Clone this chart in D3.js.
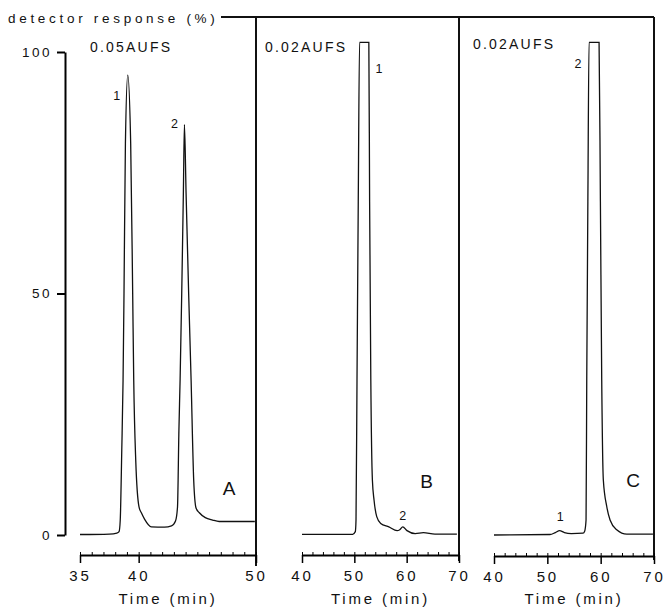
<!DOCTYPE html>
<html>
<head>
<meta charset="utf-8">
<script src="https://cdn.jsdelivr.net/npm/d3@7"></script>
<style>
  body { margin: 0; background: #fff; }
  text { font-family: "Liberation Sans", Arial, sans-serif; fill: #111; }
</style>
</head>
<body>
<div id="chart"></div>
<script>
// traces: [time (min), detector response (%)]
const traceA = [
  [35.0, 0.1], [37.5, 0.2], [38.14, 0.4], [38.33, 0.7], [38.43, 3.1], [38.56, 17.6],
  [38.67, 32], [38.75, 50], [38.87, 81], [39.07, 95.2], [39.32, 81], [39.49, 50],
  [39.58, 32], [39.75, 15.5], [40.03, 5.8], [40.23, 4.6], [40.5, 3.3], [41.08, 1.7],
  [42.2, 1.65], [42.8, 1.9], [43.14, 2.9], [43.31, 5.8], [43.43, 21.7], [43.53, 32],
  [43.67, 50], [43.81, 70.8], [43.9, 85], [44.04, 70.8], [44.26, 50], [44.47, 32],
  [44.69, 11.4], [44.89, 5.6], [45.17, 4.6], [45.68, 3.6], [46.3, 3.1], [46.86, 2.8],
  [49.9, 2.8]
];
const traceB = [
  [40.0, 0.15], [49.68, 0.15], [50.19, 0.7], [50.32, 3.1], [50.51, 32], [50.75, 69],
  [51.0, 102], [52.77, 102], [52.92, 69], [53.15, 32], [53.45, 11.4], [53.77, 7.2],
  [54.28, 3.8], [55.04, 2.4], [56.6, 1.7], [58.17, 0.9], [58.68, 1.1], [59.25, 1.7],
  [60.06, 0.9], [61.64, 0.3], [63.2, 0.5], [65.4, 0.2], [69.6, 0.2]
];
const traceC = [
  [40.0, 0.0], [50.5, 0.1], [51.5, 0.5], [52.3, 0.9], [53.2, 0.5], [54.5, 0.3],
  [56.7, 0.4], [57.0, 0.8], [57.26, 3.1], [57.39, 32], [57.6, 69], [57.82, 102],
  [59.7, 102], [59.95, 69], [60.2, 32], [60.5, 11.4], [61.14, 5.9], [61.76, 3.1],
  [63.0, 1.1], [64.9, 0.2], [69.8, 0.2]
];

const traces = [traceA, traceB, traceC];
const panelNames = ["A", "B", "C"];
const sensitivities = ["0.05AUFS", "0.02AUFS", "0.02AUFS"];
const xDomains = [[35, 50], [40, 70], [40, 70]];
const xTickValues = [[35, 40, 50], [40, 50, 60, 70], [40, 50, 60, 70]];
const yTickValues = [0, 50, 100];
// peak numbers: [time, response, label]
const peakLabels = [
  [[38.14, 90.7, "1"], [43.05, 84.9, "2"]],
  [[54.7, 96.3, "1"], [59.25, 3.7, "2"]],
  [[52.4, 3.5, "1"], [55.76, 97.3, "2"]]
];
// where the panel letter sits: [time, response]
const letterSpots = [[47.7, 9.3], [63.8, 10.8], [66.1, 11]];

let w = 666,
    h = 607;

// layout of the three strips (pixels)
let panels = [
  { x0: 80, x1: 256, axisY: 555, sensX: 90, sensY: 48, edgeBottom: 566 },
  { x0: 302, x1: 459, axisY: 555, sensX: 265, sensY: 48, edgeBottom: 561 },
  { x0: 494, x1: 654, axisY: 556, sensX: 473, sensY: 45, edgeBottom: 560 }
];
let topY = 17;

let svg = d3.select("#chart")
            .append("svg")
            .attr("width", w)
            .attr("height", h);

// shared response scale
let y = d3.scaleLinear()
          .domain([0, 100])
          .range([535, 52]);

// y axis only on panel A
svg.append("g")
   .attr("transform", "translate(65,0)")
   .call(d3.axisLeft(y).tickValues(yTickValues).tickSize(8).tickSizeOuter(0).tickPadding(5))
   .call(g => g.select(".domain").attr("stroke-width", 2))
   .call(g => g.selectAll(".tick line").attr("stroke-width", 2))
   .call(g => g.selectAll(".tick text")
               .style("font-size", "13.5px")
               .style("letter-spacing", "2.5px")
               .attr("fill", "#111"));

// header: "detector response (%)" and the top rule
svg.append("text")
   .attr("x", 8)
   .attr("y", 23)
   .style("font-size", "13.5px")
   .style("letter-spacing", "3.7px")
   .text("detector response (%)");

svg.append("line")
   .attr("x1", 221).attr("x2", panels[2].x1)
   .attr("y1", topY).attr("y2", topY)
   .attr("stroke", "#111")
   .attr("stroke-width", 2);

panels.forEach((p, i) => {

  let x = d3.scaleLinear()
            .domain(xDomains[i])
            .range([p.x0, p.x1]);

  let g = svg.append("g").attr("class", "panel");

  // right edge of the strip, runs from the top rule past the axis
  g.append("line")
   .attr("x1", p.x1).attr("x2", p.x1)
   .attr("y1", topY).attr("y2", p.edgeBottom)
   .attr("stroke", "#111")
   .attr("stroke-width", 2);

  // minor ticks, tiny and pointing up
  g.append("g")
   .attr("transform", `translate(0,${p.axisY})`)
   .call(d3.axisBottom(x).ticks(15).tickSize(-3).tickFormat(""))
   .call(a => a.select(".domain").remove())
   .call(a => a.selectAll(".tick line").attr("stroke-width", 1));

  // main time axis
  g.append("g")
   .attr("transform", `translate(0,${p.axisY})`)
   .call(d3.axisBottom(x).tickValues(xTickValues[i]).tickSize(8).tickSizeOuter(0).tickPadding(7))
   .call(a => a.select(".domain").attr("stroke-width", 2))
   .call(a => a.selectAll(".tick line").attr("stroke-width", 1.5))
   .call(a => a.selectAll(".tick text")
               .style("font-size", "15px")
               .style("letter-spacing", "2.8px")
               .attr("fill", "#111"));

  g.append("text")
   .attr("x", (p.x0 + p.x1) / 2)
   .attr("y", 604)
   .attr("text-anchor", "middle")
   .style("font-size", "15px")
   .style("letter-spacing", "2.8px")
   .text("Time (min)");

  // the trace
  let line = d3.line()
               .x(d => x(d[0]))
               .y(d => y(d[1]))
               .curve(d3.curveMonotoneX);

  g.append("path")
   .datum(traces[i])
   .attr("d", line)
   .attr("fill", "none")
   .attr("stroke", "#111")
   .attr("stroke-width", 1.3);

  // sensitivity setting
  g.append("text")
   .attr("x", p.sensX)
   .attr("y", p.sensY)
   .attr("dominant-baseline", "middle")
   .style("font-size", "14px")
   .style("letter-spacing", "2.2px")
   .text(sensitivities[i]);

  // peak numbers
  g.selectAll(".peak-label")
   .data(peakLabels[i])
   .enter()
   .append("text")
   .attr("class", "peak-label")
   .attr("x", d => x(d[0]))
   .attr("y", d => y(d[1]))
   .attr("text-anchor", "middle")
   .attr("dominant-baseline", "middle")
   .style("font-size", "12.5px")
   .text(d => d[2]);

  // panel letter
  g.append("text")
   .attr("x", x(letterSpots[i][0]))
   .attr("y", y(letterSpots[i][1]))
   .attr("text-anchor", "middle")
   .attr("dominant-baseline", "middle")
   .style("font-size", "19px")
   .text(panelNames[i]);
});
</script>
</body>
</html>
